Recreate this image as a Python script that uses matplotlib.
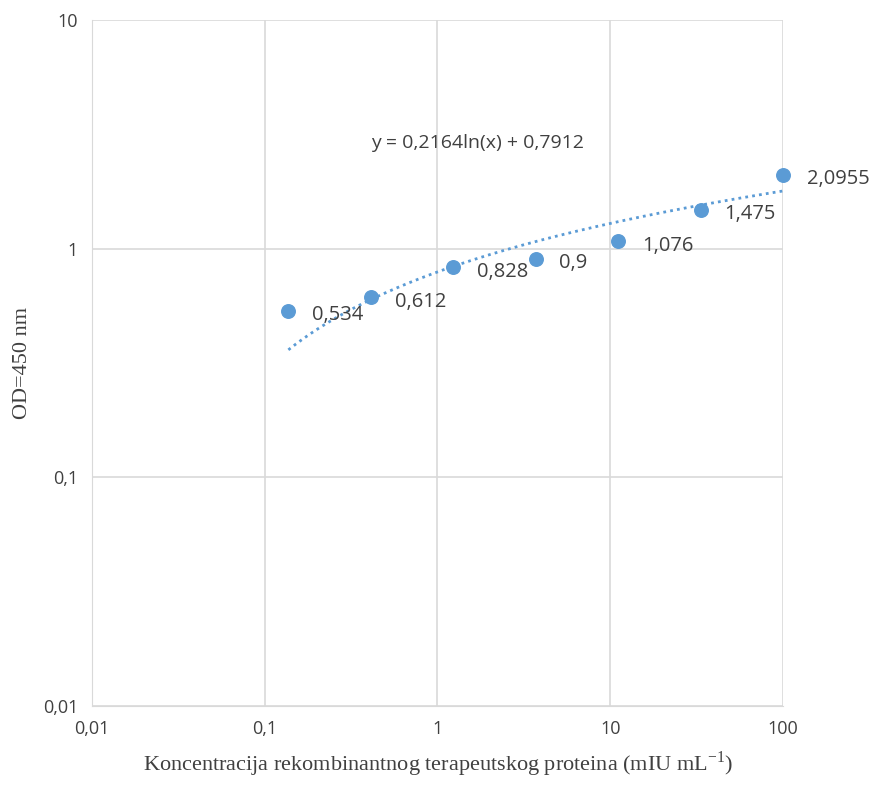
import numpy as np
import matplotlib.pyplot as plt

conc = [0.137, 0.412, 1.235, 3.704, 11.11, 33.33, 100.0]
od = [0.534, 0.612, 0.828, 0.9, 1.076, 1.475, 2.0955]
labels = ["0,534", "0,612", "0,828", "0,9", "1,076", "1,475", "2,0955"]
slope, intercept = 0.2164, 0.7912
x_ticks = [0.01, 0.1, 1, 10, 100]
x_tick_labels = ["0,01", "0,1", "1", "10", "100"]
y_ticks = [0.01, 0.1, 1, 10]
y_tick_labels = ["0,01", "0,1", "1", "10"]

blue = "#5B9BD5"
fig = plt.figure(figsize=(8.73, 7.89), dpi=100)
ax = fig.add_axes([92 / 873, 1 - 706 / 789, 691 / 873, 686 / 789])

xt = np.logspace(np.log10(conc[0]), np.log10(conc[-1]), 200)
ax.plot(xt, slope * np.log(xt) + intercept, ls=(0, (1, 1.5)), color=blue, lw=2)
ax.scatter(conc, od, s=95, color=blue, zorder=3, clip_on=False)
for x, y, t in zip(conc, od, labels):
    ax.annotate(t, (x, y), xytext=(17, -3), textcoords="offset points",
                fontsize=14.5, family="Open Sans", color="#404040", va="center")

ax.set_xscale("log")
ax.set_yscale("log")
ax.set_xlim(0.01, 100)
ax.set_ylim(0.01, 10)
ax.set_xticks(x_ticks, x_tick_labels)
ax.set_yticks(y_ticks, y_tick_labels)
ax.minorticks_off()
ax.tick_params(length=0, labelsize=13, labelcolor="#404040", pad=10)
for lab in ax.get_xticklabels() + ax.get_yticklabels():
    lab.set_family("Open Sans")
ax.grid(True, color="#d9d9d9", lw=1.2)
for s in ax.spines.values():
    s.set_visible(False)
ax.spines["left"].set_visible(True)
ax.spines["bottom"].set_visible(True)
ax.spines["left"].set_color("#d9d9d9")
ax.spines["bottom"].set_color("#d9d9d9")

ax.text(1.71, 2.9, "y = 0,2164ln(x) + 0,7912", fontsize=14, family="Open Sans",
        color="#404040", ha="center", va="center")
ax.set_xlabel("Koncentracija rekombinantnog terapeutskog proteina (mIU mL$^{\\mathregular{-1}}$)",
              family="Liberation Serif", fontsize=16, color="#404040", labelpad=8)
ax.set_ylabel("OD=450 nm", family="Liberation Serif", fontsize=16, color="#404040", labelpad=8)

fig.savefig("out.png")
